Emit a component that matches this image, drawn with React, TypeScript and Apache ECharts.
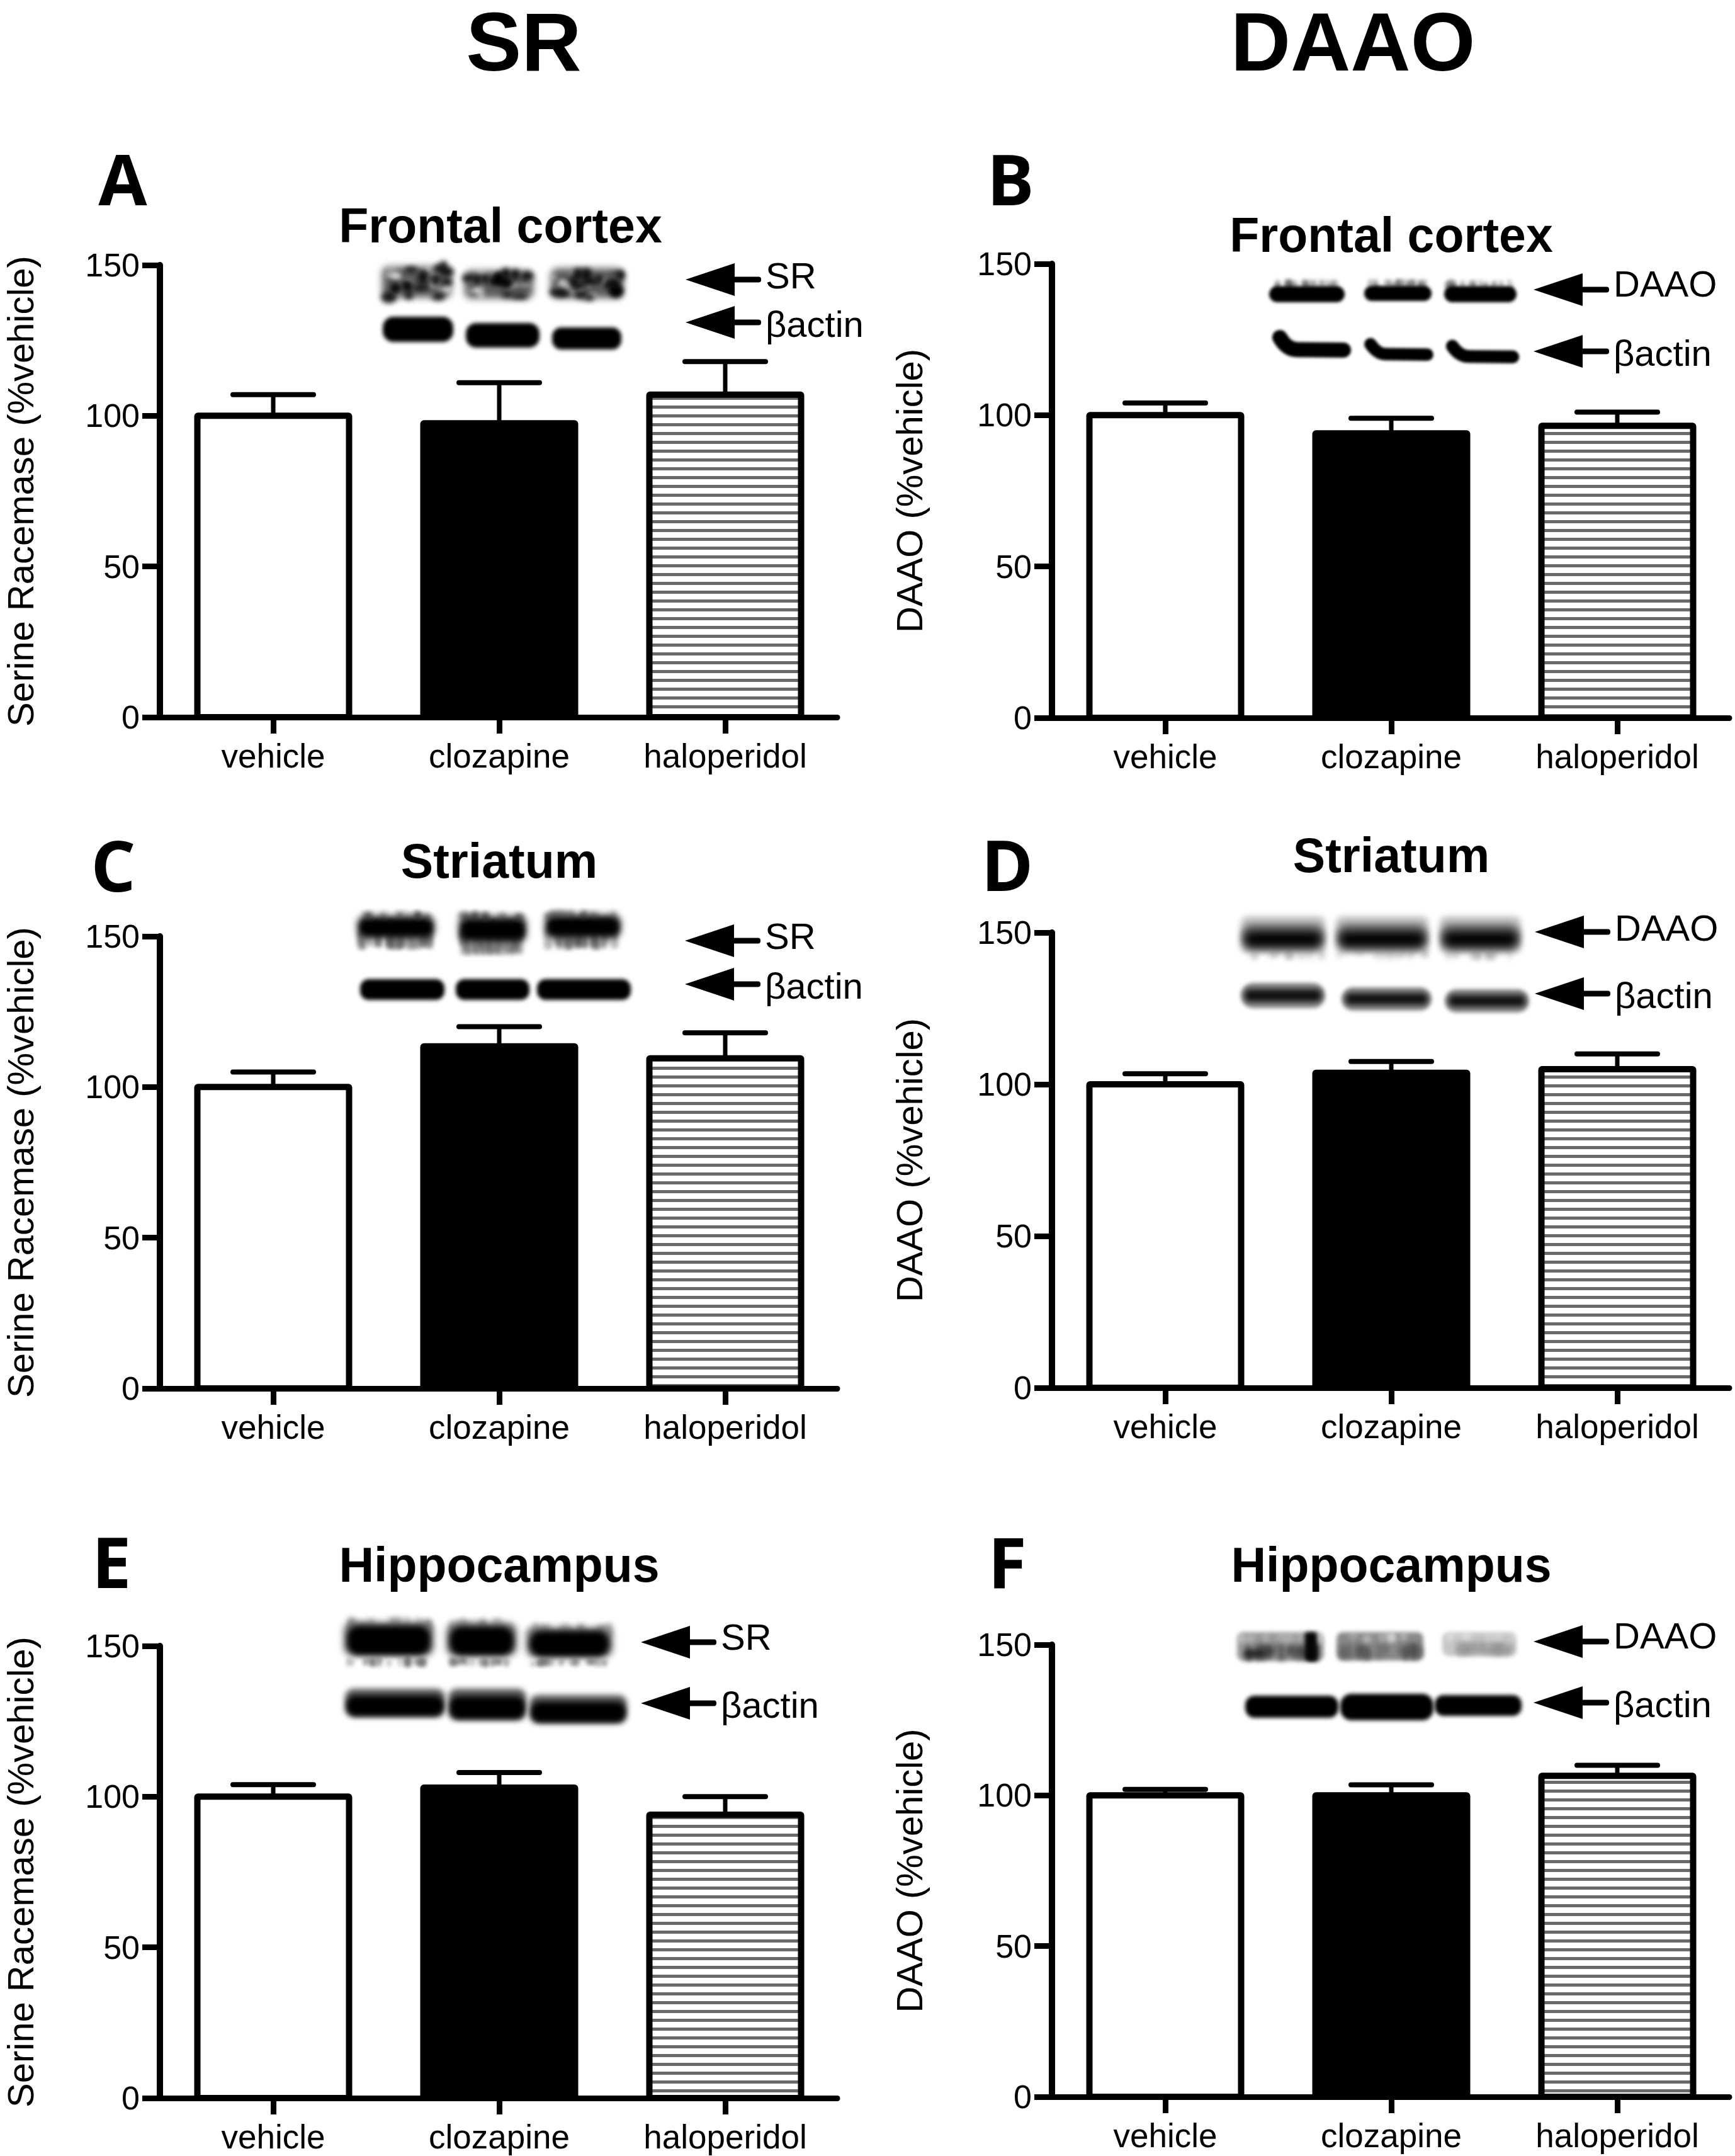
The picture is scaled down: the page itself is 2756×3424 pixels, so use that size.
import React, { useEffect, useRef } from "react";
import * as echarts from "echarts";

const categories = ["vehicle", "clozapine", "haloperidol"];
const positions = [0, 1, 2];
const yTicks = [0, 50, 100, 150];

const aValues = [100, 97.5, 107];
const aTops = [107, 111, 118];
const bValues = [100, 94, 96.5];
const bTops = [104, 99, 101];
const cValues = [100, 113.5, 109.5];
const cTops = [105, 120, 118];
const dValues = [100, 103.8, 105];
const dTops = [103.5, 107.5, 110];
const eValues = [100, 103, 94];
const eTops = [104, 108, 100];
const fValues = [100, 100, 106.5];
const fTops = [102, 103.5, 110];

const SR_AXIS = "Serine Racemase (%vehicle)";
const DAAO_AXIS = "DAAO (%vehicle)";
const FONT = '"Liberation Sans", Arial, sans-serif';

type Band = [number, number, number, number, string];

const panels = [
  {
    letter: "A", letterX: 195, letterY: 282, title: "Frontal cortex", titleX: 795, titleY: 358,
    values: aValues, tops: aTops, axis: SR_AXIS, nameGap: 193, left: 254, y150: 421, y0: 1139,
    label: "SR", tip: 1089, arrowY: 444, textY: 437, actinY: 512,
    bands: [
      [607, 420, 110, 57, "grain"], [738, 427, 109, 51, "grain"], [875, 423, 115, 55, "grain"],
      [608, 503, 112, 40, "solid"], [740, 513, 117, 39, "solid"], [877, 520, 110, 35, "solid"],
    ] as Band[],
  },
  {
    letter: "B", letterX: 1605, letterY: 282, title: "Frontal cortex", titleX: 2210, titleY: 373,
    values: bValues, tops: bTops, axis: DAAO_AXIS, nameGap: 198, left: 1671, y150: 419, y0: 1140,
    label: "DAAO", tip: 2436, arrowY: 460, textY: 450, actinY: 558,
    bands: [
      [2016, 448, 120, 32, "topFuzz"], [2167, 448, 107, 30, "topFuzz"], [2294, 448, 115, 32, "topFuzz"],
      [2024, 528, 122, 40, "curve"], [2168, 540, 111, 33, "curve"], [2298, 543, 117, 34, "curve"],
    ] as Band[],
  },
  {
    letter: "C", letterX: 180, letterY: 1372, title: "Striatum", titleX: 793, titleY: 1367,
    values: cValues, tops: cTops, axis: SR_AXIS, nameGap: 193, left: 254, y150: 1487, y0: 2205,
    label: "SR", tip: 1088, arrowY: 1494, textY: 1486, actinY: 1563,
    bands: [
      [566, 1450, 126, 58, "fuzzy"], [727, 1450, 111, 67, "fuzzy"], [864, 1448, 124, 60, "fuzzy"],
      [572, 1555, 134, 33, "solid"], [724, 1555, 117, 33, "solid"], [853, 1555, 149, 33, "solid"],
    ] as Band[],
  },
  {
    letter: "D", letterX: 1600, letterY: 1371, title: "Striatum", titleX: 2210, titleY: 1358,
    values: dValues, tops: dTops, axis: DAAO_AXIS, nameGap: 198, left: 1671, y150: 1481, y0: 2204,
    label: "DAAO", tip: 2438, arrowY: 1480, textY: 1473, actinY: 1578,
    bands: [
      [1971, 1455, 134, 69, "soft"], [2122, 1455, 147, 69, "soft"], [2287, 1455, 129, 69, "soft"],
      [1971, 1561, 134, 40, "softThin"], [2131, 1568, 143, 37, "softThin"], [2295, 1571, 134, 37, "softThin"],
    ] as Band[],
  },
  {
    letter: "E", letterX: 177, letterY: 2478, title: "Hippocampus", titleX: 793, titleY: 2485,
    values: eValues, tops: eTops, axis: SR_AXIS, nameGap: 193, left: 254, y150: 2614, y0: 3332,
    label: "SR", tip: 1018, arrowY: 2608, textY: 2599, actinY: 2705,
    bands: [
      [546, 2568, 143, 79, "halo"], [709, 2570, 112, 77, "halo"], [836, 2578, 137, 69, "halo"],
      [548, 2682, 159, 45, "solidBlur"], [712, 2682, 124, 50, "solidBlur"], [841, 2692, 155, 45, "solidBlur"],
    ] as Band[],
  },
  {
    letter: "F", letterX: 1600, letterY: 2478, title: "Hippocampus", titleX: 2210, titleY: 2485,
    values: fValues, tops: fTops, axis: DAAO_AXIS, nameGap: 198, left: 1671, y150: 2612, y0: 3330,
    label: "DAAO", tip: 2436, arrowY: 2607, textY: 2597, actinY: 2704,
    bands: [
      [1965, 2592, 138, 46, "washDark"], [2123, 2592, 138, 45, "washMid"], [2291, 2592, 118, 38, "washLight"],
      [1978, 2693, 148, 35, "solid"], [2129, 2690, 148, 42, "solid"], [2279, 2692, 138, 33, "solid"],
    ] as Band[],
  },
];

const barInnerWidth = 241;
const barBorder = 10;
const capHalf = 64;
const axisSpan = 1076;
const centerOffset = 180;
const spacing = 359;

// Small deterministic generator for blot texture only (never chart data).
function texture(seed: number) {
  let s = seed * 7919 + 13;
  return () => {
    s = (s * 16807) % 2147483647;
    return (s % 1000) / 1000;
  };
}

function bandImage(w: number, h: number, kind: string, seed: number) {
  const pad = 24;
  const c = document.createElement("canvas");
  c.width = w + pad * 2;
  c.height = h + pad * 2;
  const g = c.getContext("2d")!;
  const next = texture(seed);
  const rr = (x: number, y: number, ww: number, hh: number, r: number, fill: string, blur: number) => {
    g.filter = `blur(${blur}px)`;
    g.fillStyle = fill;
    g.beginPath();
    g.roundRect(pad + x, pad + y, ww, hh, Math.min(r, hh / 2, ww / 2));
    g.fill();
  };
  const streaks = (y: number, hh: number, fill: string, count: number, blur = 2) => {
    for (let i = 0; i < count; i++) {
      const sw = 4 + next() * 8;
      const sh = hh * (0.5 + next() * 0.5);
      rr(next() * (w - sw), y + next() * (hh - sh), sw, sh, 3, fill, blur);
    }
  };
  const blobs = (fill: string, count: number, rx: number, ry: number, blur: number) => {
    for (let i = 0; i < count; i++) {
      g.filter = `blur(${blur}px)`;
      g.fillStyle = fill;
      g.beginPath();
      g.ellipse(pad + 4 + next() * (w - 8), pad + 4 + next() * (h - 8), rx * (0.5 + next()), ry * (0.5 + next()), 0, 0, Math.PI * 2);
      g.fill();
    }
  };
  if (kind === "solid") {
    rr(0, 0, w, h, h * 0.42, "#000", 3);
  } else if (kind === "solidBlur") {
    rr(0, 0, w, h, 14, "#555", 5);
    rr(3, h * 0.25, w - 6, h * 0.7, 14, "#000", 4);
  } else if (kind === "curve") {
    g.filter = "blur(2px)";
    g.strokeStyle = "#000";
    g.lineCap = "round";
    g.lineWidth = h * 0.6;
    g.beginPath();
    g.moveTo(pad + 9, pad + h * 0.2);
    g.quadraticCurveTo(pad + 20, pad + h * 0.68, pad + w * 0.3, pad + h * 0.68);
    g.lineTo(pad + w - 12, pad + h * 0.7);
    g.stroke();
  } else if (kind === "topFuzz") {
    streaks(-4, h * 0.55, "rgba(70,70,70,0.5)", 16, 3);
    rr(0, h * 0.2, w, h * 0.8, h / 2, "#000", 2.5);
  } else if (kind === "fuzzy") {
    streaks(h * 0.45, h * 0.55, "rgba(80,80,80,0.4)", 40, 3.5);
    rr(2, h * 0.08, w - 4, h * 0.6, 12, "#222", 6);
    rr(6, h * 0.2, w - 12, h * 0.4, 12, "#000", 5);
    streaks(-2, h * 0.22, "rgba(40,40,40,0.5)", 16, 4);
  } else if (kind === "halo") {
    streaks(h * 0.8, h * 0.2, "rgba(90,90,90,0.4)", 24, 3);
    streaks(0, h * 0.3, "rgba(110,110,110,0.45)", 16, 4);
    rr(0, h * 0.1, w, h * 0.68, 14, "#666", 6);
    rr(6, h * 0.18, w - 12, h * 0.58, 18, "#000", 5);
  } else if (kind === "soft") {
    rr(0, 0, w, h * 0.85, 10, "#c4c4c4", 5);
    streaks(h * 0.75, h * 0.25, "rgba(170,170,170,0.5)", 14, 4);
    rr(2, h * 0.18, w - 4, h * 0.6, 16, "#6a6a6a", 6);
    rr(6, h * 0.36, w - 12, h * 0.34, 12, "#000", 7);
  } else if (kind === "softThin") {
    rr(0, 0, w, h, h / 2, "#8a8a8a", 3);
    rr(6, h * 0.25, w - 12, h * 0.5, 8, "#111", 5);
  } else if (kind === "washDark" || kind === "washMid" || kind === "washLight") {
    const base = kind === "washDark" ? "#999" : kind === "washMid" ? "#8a8a8a" : "#c6c6c6";
    const low = kind === "washDark" ? "rgba(40,40,40,0.55)" : kind === "washMid" ? "rgba(70,70,70,0.45)" : "rgba(140,140,140,0.5)";
    rr(0, 0, w, h, 10, base, 3);
    streaks(h * 0.4, h * 0.6, low, 24, 4);
    streaks(0, h * 0.4, "rgba(255,255,255,0.3)", 12, 4);
    if (kind === "washDark") {
      rr(w * 0.78, 0, w * 0.14, h, 5, "#050505", 3);
      rr(w * 0.08, h * 0.62, w * 0.25, h * 0.25, 6, "#222", 4);
    }
  } else {
    rr(0, h * 0.06, w, h * 0.86, 10, "#5c5c5c", 6);
    blobs("rgba(255,255,255,0.4)", 18, 7, 5, 3.5);
    blobs("rgba(0,0,0,0.85)", 16, 9, 7, 4);
  }
  return { url: c.toDataURL(), pad };
}

const arrowGraphics = (tip: number, arrowY: number, textY: number, text: string) => [
  { type: "polygon", shape: { points: [[tip, arrowY], [tip + 78, arrowY - 26], [tip + 78, arrowY + 26]] }, style: { fill: "#000" } },
  { type: "rect", shape: { x: tip + 74, y: arrowY - 4.5, width: 46, height: 9, r: 4 }, style: { fill: "#000" } },
  {
    type: "text", x: tip + 127, y: textY,
    style: { text, fill: "#000", fontSize: 58, fontFamily: FONT, verticalAlign: "middle", align: "left" },
  },
];

export default function App() {
  const ref = useRef<HTMLDivElement>(null);
  useEffect(() => {
    const chart = echarts.init(ref.current!, undefined, { renderer: "svg", width: 2756, height: 3424 });
    const xMin = -centerOffset / spacing;
    const xMax = xMin + axisSpan / spacing;

    const graphics: any[] = [];
    let seed = 1;
    panels.forEach((p) => {
      arrowGraphics(p.tip, p.arrowY, p.textY, p.label).forEach((g) => graphics.push(g));
      arrowGraphics(p.tip, p.actinY, p.actinY + 2, "βactin").forEach((g) => graphics.push(g));
      p.bands.forEach(([x, y, w, h, kind]) => {
        const im = bandImage(w, h, kind, seed++);
        graphics.push({
          type: "image",
          x: x - im.pad,
          y: y - im.pad,
          style: { image: im.url, x: 0, y: 0, width: w + im.pad * 2, height: h + im.pad * 2 },
        });
      });
    });

    const heading = (text: string, x: number, y: number, size: number, family = FONT, lineHeight?: number) => ({
      text, left: x, top: y, textAlign: "center", textVerticalAlign: "middle", padding: 0,
      textStyle: { fontSize: size, fontWeight: "bold", color: "#000", fontFamily: family, lineHeight },
    });
    const titles: any[] = [
      heading("SR", 832, 66, 132, FONT, 110),
      heading("DAAO", 2149, 66, 132, FONT, 110),
    ];
    panels.forEach((p) => {
      titles.push(heading(p.title, p.titleX, p.titleY, 77));
      titles.push(heading(p.letter, p.letterX, p.letterY, 112, '"Open Sans", sans-serif'));
    });

    const grids = panels.map((p) => ({ left: p.left, top: p.y150, width: axisSpan, height: p.y0 - p.y150 }));
    const xAxes = panels.map((_, i) => ({
      type: "value", gridIndex: i, min: xMin, max: xMax, splitLine: { show: false },
      axisLine: { show: true, onZero: false, lineStyle: { color: "#000", width: 9 } },
      axisTick: { show: true, customValues: positions, length: 26, lineStyle: { color: "#000", width: 9 } },
      axisLabel: {
        customValues: positions, color: "#000", fontSize: 53, fontFamily: FONT, margin: 35,
        formatter: (v: number) => categories[Math.round(v)],
      },
    }));
    const yAxes = panels.map((p, i) => ({
      type: "value", gridIndex: i, min: 0, max: 150, interval: 50, splitLine: { show: false },
      name: p.axis, nameLocation: "middle", nameGap: p.nameGap,
      nameTextStyle: { color: "#000", fontSize: 58, fontFamily: FONT, lineHeight: 58 },
      axisLine: { show: true, onZero: false, lineStyle: { color: "#000", width: 10 } },
      axisTick: { show: true, length: 28, lineStyle: { color: "#000", width: 9 } },
      axisLabel: { color: "#000", fontSize: 52, fontFamily: FONT, margin: 32, customValues: yTicks },
    }));

    const stripe = {
      color: "#6a6a6a", symbol: "rect", symbolSize: 1, rotation: 0,
      dashArrayX: [1, 0], dashArrayY: [5, 9],
    };
    const series: any[] = [];
    panels.forEach((p, i) => {
      series.push({
        type: "bar", xAxisIndex: i, yAxisIndex: i, barWidth: barInnerWidth,
        data: p.values.map((v, k) => ({
          value: [positions[k], v],
          itemStyle: k === 0 ? { color: "#fff" } : k === 1 ? { color: "#000" } : { color: "#fff", decal: stripe },
        })),
      });
      series.push({
        type: "custom", xAxisIndex: i, yAxisIndex: i, z: 3,
        encode: { x: 0, y: [1, 2] },
        data: p.tops.map((t, k) => [positions[k], p.values[k], t]),
        renderItem: (_: any, api: any) => {
          const a = api.coord([api.value(0), api.value(1)]);
          const b = api.coord([api.value(0), api.value(2)]);
          const base = api.coord([api.value(0), 0]);
          const stem = { stroke: "#000", lineWidth: 7, fill: "none" };
          const cap = { stroke: "#000", lineWidth: 8, fill: "none", lineCap: "round" };
          return {
            type: "group",
            children: [
              {
                type: "rect",
                shape: { x: a[0] - barInnerWidth / 2, y: a[1], width: barInnerWidth, height: base[1] - a[1], r: 1 },
                style: { stroke: "#000", lineWidth: barBorder, fill: "none" },
              },
              { type: "line", shape: { x1: a[0], y1: a[1], x2: b[0], y2: b[1] }, style: stem },
              { type: "line", shape: { x1: b[0] - capHalf, y1: b[1], x2: b[0] + capHalf, y2: b[1] }, style: cap },
            ],
          };
        },
      });
    });

    chart.setOption({
      animation: false, backgroundColor: "#fff",
      title: titles, grid: grids, xAxis: xAxes, yAxis: yAxes, series,
      graphic: { elements: graphics },
    });
    return () => chart.dispose();
  }, []);
  return <div ref={ref} style={{ position: "absolute", left: 0, top: 0, width: 2756, height: 3424 }} />;
}
